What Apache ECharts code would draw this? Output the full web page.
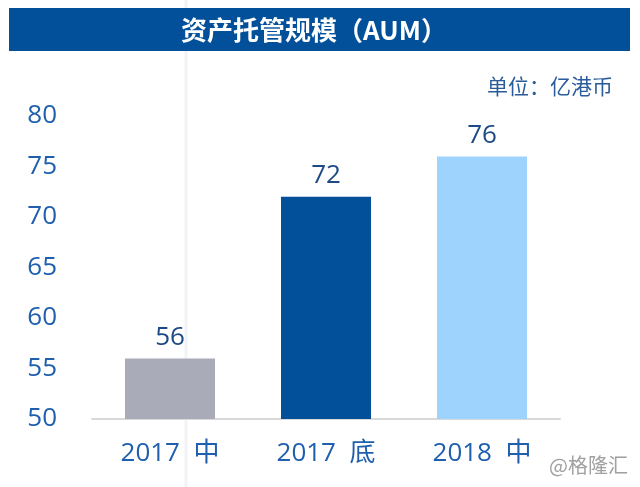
<!DOCTYPE html>
<html><head><meta charset="utf-8">
<script src="https://cdn.jsdelivr.net/npm/echarts@6/dist/echarts.min.js"></script>
<style>html,body{margin:0;padding:0;background:#fff}#c{width:640px;height:487px}</style>
</head><body><div id="c"></div>
<script>
const categories = ['2017 中', '2017 底', '2018 中'];
const values = [56, 72, 76];
const barColors = ['#a9abb8', '#024f9a', '#9dd3fd'];
const yTicks = [50, 55, 60, 65, 70, 75, 80];
const titleText = '资产托管规模（AUM）';
const unitText = '单位：亿港币';
const watermark = '@格隆汇';

const chart = echarts.init(document.getElementById('c'));
const font = '"Noto Sans CJK SC", "Open Sans", sans-serif';
chart.setOption({
  animation: false,
  grid: { left: 92, right: 80, top: 116, bottom: 68, containLabel: false },
  graphic: [
    { type: 'line', shape: { x1: 186, y1: 0, x2: 186, y2: 487 }, style: { stroke: '#f1f3f6', lineWidth: 3 }, z: -1 },
    { type: 'rect', shape: { x: 9, y: 8, width: 621, height: 43 }, style: { fill: '#024f9a' } },
    { type: 'text', x: 314, y: 30, style: { text: titleText, fill: '#fff', font: 'bold 26px ' + font, textAlign: 'center', textVerticalAlign: 'middle' } },
    { type: 'text', x: 613, y: 86, style: { text: unitText, fill: '#2a5b9a', font: '21px ' + font, textAlign: 'right', textVerticalAlign: 'middle' } },
    { type: 'text', x: 628, y: 465, style: { text: watermark, fill: '#a0a0a0', font: '20px ' + font, textAlign: 'right', textVerticalAlign: 'middle' } }
  ],
  xAxis: {
    type: 'category', data: categories,
    axisLine: { lineStyle: { color: '#d9d9d9', width: 2 } },
    axisTick: { show: false },
    axisLabel: { color: '#1f5fae', fontSize: 26, fontFamily: '"Open Sans", "Noto Sans CJK SC", sans-serif', margin: 22,
      formatter: v => v.replace(' ', '  ') }
  },
  yAxis: {
    type: 'value', min: yTicks[0], max: yTicks[yTicks.length - 1], interval: 5,
    axisLine: { show: false }, axisTick: { show: false },
    splitLine: { show: false },
    axisLabel: { color: '#1f5fae', fontSize: 26, fontFamily: '"Open Sans", sans-serif', margin: 35 }
  },
  series: [{
    type: 'bar', barWidth: 90,
    data: values.map((v, i) => ({ value: v, itemStyle: { color: barColors[i] } })),
    label: { show: true, position: 'top', distance: 8, color: '#1d4a85', fontSize: 26, fontFamily: '"Open Sans", sans-serif' }
  }]
});
</script></body></html>
